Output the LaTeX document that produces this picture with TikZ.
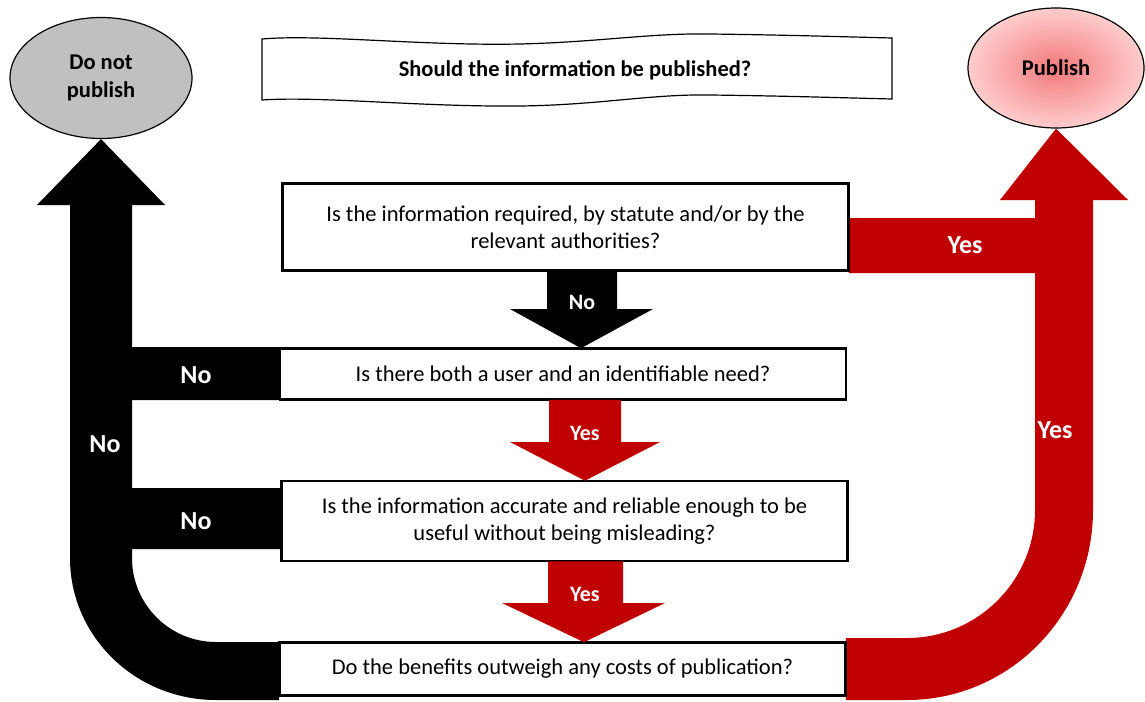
\documentclass[tikz,border=0pt]{standalone}
\usepackage{fontspec}
\setmainfont{Carlito}
\usetikzlibrary{shapes.geometric}
\definecolor{darkred}{RGB}{192,0,0}
\definecolor{stopgrey}{RGB}{192,192,192}
\definecolor{pubin}{RGB}{242,120,122}
\definecolor{pubout}{RGB}{255,205,205}
\begin{document}
\begin{tikzpicture}[x=1pt,y=-1pt,
  question/.style={draw=black,line width=1.6pt,fill=white,rectangle,
    minimum width=565pt,align=center,inner sep=2pt,
    font=\fontsize{22.5}{27}\selectfont},
  endpoint/.style={draw=black,line width=1.2pt,ellipse,inner sep=0pt,
    minimum width=182pt,minimum height=121pt,align=center,
    font=\bfseries\fontsize{22.5}{28}\selectfont},
  smalllabel/.style={text=white,font=\bfseries\fontsize{22}{26}\selectfont},
  biglabel/.style={text=white,font=\bfseries\fontsize{26}{30}\selectfont},
  blockno/.style={fill=black},
  blockyes/.style={fill=darkred}]
\useasboundingbox (0,0) rectangle (1145,701);

% end points
\node[endpoint,fill=stopgrey] (nopub) at (101,78) {\raisebox{-2pt}{Do not}\\\raisebox{-2pt}{publish}};
\node[endpoint,inner color=pubin,outer color=pubout,minimum width=176pt,minimum height=120pt] (pub) at (1056,68) {\raisebox{-2pt}{Publish}};

% heading banner
\draw[line width=1.2pt,fill=white]
  (262,39) .. controls (320,34) and (420,46) .. (520,44)
           .. controls (600,42) and (650,33) .. (710,34)
           .. controls (790,35) and (850,37) .. (892,38)
  -- (892,99)
           .. controls (850,98) and (790,96) .. (710,95)
           .. controls (650,94) and (600,105) .. (520,106)
           .. controls (420,107) and (320,96) .. (262,100)
  -- cycle;
\node[font=\bfseries\fontsize{22.5}{27}\selectfont] (title) at (575,70) {Should the information be published?};

% questions
\node[question,minimum height=86pt] (q1) at (565.5,227) {Is the information required, by statute and/or by the\\relevant authorities?};
\node[question,minimum height=50pt] (q2) at (563,374) {Is there both a user and an identifiable need?};
\node[question,minimum height=79pt] (q3) at (564.5,521) {Is the information accurate and reliable enough to be\\useful without being misleading?};
\node[question,minimum height=52pt] (q4) at (562.5,669) {Do the benefits outweigh any costs of publication?};

% large "No" route to the left
\fill[blockno] (nopub.south) -- (165,205) -- (132,205) -- (132,347)
  -- (q2.west |- 0,347) -- (q2.west |- 0,400) -- (132,400) -- (132,488)
  -- (q3.west |- 0,488) -- (q3.west |- 0,549) -- (132,549) -- (132,558)
  arc[start angle=180,end angle=90,radius=84] -- (q4.west |- 0,642)
  -- (q4.west |- 0,700) -- (216,700)
  arc[start angle=90,end angle=180,x radius=146,y radius=142]
  -- (70,205) -- (37,205) -- cycle;

% large "Yes" route to the right
\fill[blockyes] (pub.south) -- (1128,200) -- (1093,200) -- (1093,510)
  arc[start angle=0,end angle=90,x radius=186,y radius=190]
  -- (q4.east |- 0,700) -- (q4.east |- 0,638) -- (907,638)
  arc[start angle=90,end angle=0,radius=128]
  -- (1035,273) -- (q1.east |- 0,273) -- (q1.east |- 0,218) -- (1035,218)
  -- (1035,200) -- (1000,200) -- cycle;

% redraw the question frames over the routes
\foreach \q in {q1,q2,q3,q4}{
  \draw[line width=1.6pt] (\q.south west) rectangle (\q.north east);
}

% short arrows between questions
\fill[blockno] (547,0 |- q1.south) -- (547,309) -- (510,309) -- (581,0 |- q2.north)
  -- (653,309) -- (617,309) -- (617,0 |- q1.south) -- cycle;
\fill[blockyes] (549,0 |- q2.south) -- (549,442) -- (510,442) -- (585,0 |- q3.north)
  -- (660,442) -- (621,442) -- (621,0 |- q2.south) -- cycle;
\fill[blockyes] (548,0 |- q3.south) -- (548,603) -- (502,603) -- (584,0 |- q4.north)
  -- (665,603) -- (623,603) -- (623,0 |- q3.south) -- cycle;

% labels
\node[smalllabel] (l1) at (582,302) {No};
\node[smalllabel] (l2) at (585,433) {Yes};
\node[smalllabel] (l3) at (585,594) {Yes};
\node[biglabel] (l4) at (196,375) {No};
\node[biglabel] (l5) at (196,521) {No};
\node[biglabel] (l6) at (105,444) {No};
\node[biglabel] (l7) at (965,245) {Yes};
\node[biglabel] (l8) at (1055,430) {Yes};
\end{tikzpicture}
\end{document}
